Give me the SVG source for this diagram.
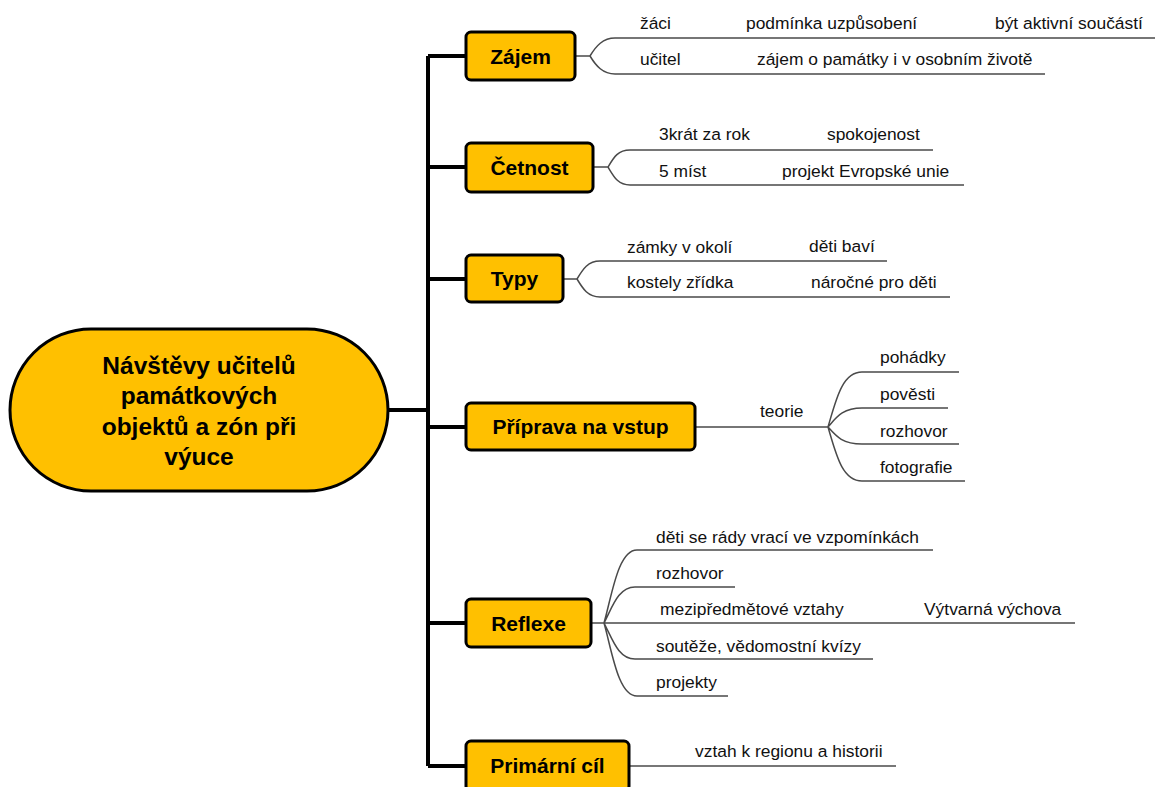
<svg xmlns="http://www.w3.org/2000/svg" width="1155" height="787" viewBox="0 0 1155 787">
<style>
.box{fill:#FFC000;stroke:#000;stroke-width:3}
.lbl{font-family:"Liberation Sans",Arial,sans-serif;font-weight:bold;font-size:21px;fill:#000;text-anchor:middle}
.ctr{font-family:"Liberation Sans",Arial,sans-serif;font-weight:bold;font-size:24.5px;fill:#000;text-anchor:middle}
.t{font-family:"Liberation Sans",Arial,sans-serif;font-size:17.4px;fill:#111}
.trunk{fill:none;stroke:#000;stroke-width:4}
.sub{fill:none;stroke:#4a4a4a;stroke-width:1.5}
</style>
<rect width="1155" height="787" fill="#fff"/>
<g id="connectors">
<path class="trunk" d="M388,410 H428 M428,56 V766 M428,56 H466 M428,167 H466 M428,279 H466 M428,427 H466 M428,623 H466 M428,766 H466"/>
<path class="sub" d="M575,56 H590 M590,56 C596,46 603,38 615,38 H1155 M590,56 C596,66 603,74 615,74 H1045"/>
<path class="sub" d="M593,167 H608 M608,167 C614,157 618,150 630,150 H933 M608,167 C614,177 618,185 630,185 H964"/>
<path class="sub" d="M563,279 H577 M577,279 C583,269 588,261 600,261 H887 M577,279 C583,289 588,297 600,297 H950"/>
<path class="sub" d="M695,427 H828 M828,427 C836,400 842,372 862,372 H959 M828,427 C836,418 842,408 862,408 H948 M828,427 C836,436 842,444 862,444 H959 M828,427 C836,454 842,481 862,481 H965"/>
<path class="sub" d="M591,623 H604 M604,623 C612,595 618,550 637,550 H933 M604,623 C612,608 618,587 635,587 H735 M604,623 H1075 M604,623 C612,638 618,659 635,659 H873 M604,623 C612,651 618,696 637,696 H728"/>
<path class="sub" d="M629,766 H896"/>
</g>
<g id="central">
<rect class="box" x="10" y="329" width="378" height="162" rx="81" ry="81"/>
<text class="ctr" x="199" y="374">Návštěvy učitelů</text>
<text class="ctr" x="199" y="404">památkových</text>
<text class="ctr" x="199" y="435">objektů a zón při</text>
<text class="ctr" x="199" y="465">výuce</text>
</g>
<g id="zajem">
<rect class="box" x="466" y="32" width="109" height="48" rx="5"/>
<text class="lbl" x="520.5" y="63.5">Zájem</text>
<text class="t" x="640" y="29">žáci</text>
<text class="t" x="746" y="29">podmínka uzpůsobení</text>
<text class="t" x="995" y="29">být aktivní součástí</text>
<text class="t" x="640" y="65">učitel</text>
<text class="t" x="757" y="65">zájem o památky i v osobním životě</text>
</g>
<g id="cetnost">
<rect class="box" x="466" y="143" width="127" height="49" rx="5"/>
<text class="lbl" x="529.5" y="175">Četnost</text>
<text class="t" x="659" y="140">3krát za rok</text>
<text class="t" x="827" y="140">spokojenost</text>
<text class="t" x="659" y="177">5 míst</text>
<text class="t" x="782" y="177">projekt Evropské unie</text>
</g>
<g id="typy">
<rect class="box" x="466" y="255" width="97" height="47" rx="5"/>
<text class="lbl" x="514.5" y="286">Typy</text>
<text class="t" x="627" y="253">zámky v okolí</text>
<text class="t" x="809" y="252">děti baví</text>
<text class="t" x="627" y="288">kostely zřídka</text>
<text class="t" x="811" y="288">náročné pro děti</text>
</g>
<g id="priprava">
<rect class="box" x="466" y="403" width="229" height="47" rx="5"/>
<text class="lbl" x="580.5" y="434">Příprava na vstup</text>
<text class="t" x="760" y="417">teorie</text>
<text class="t" x="880" y="363">pohádky</text>
<text class="t" x="880" y="400">pověsti</text>
<text class="t" x="880" y="437">rozhovor</text>
<text class="t" x="880" y="473">fotografie</text>
</g>
<g id="reflexe">
<rect class="box" x="466" y="599" width="125" height="48" rx="5"/>
<text class="lbl" x="528.5" y="630.5">Reflexe</text>
<text class="t" x="656" y="543">děti se rády vrací ve vzpomínkách</text>
<text class="t" x="656" y="579">rozhovor</text>
<text class="t" x="660" y="615">mezipředmětové vztahy</text>
<text class="t" x="924" y="615">Výtvarná výchova</text>
<text class="t" x="656" y="652">soutěže, vědomostní kvízy</text>
<text class="t" x="656" y="688">projekty</text>
</g>
<g id="primarni">
<rect class="box" x="466" y="741" width="163" height="50" rx="5"/>
<text class="lbl" x="547.5" y="773">Primární cíl</text>
<text class="t" x="695" y="757">vztah k regionu a historii</text>
</g>
</svg>
